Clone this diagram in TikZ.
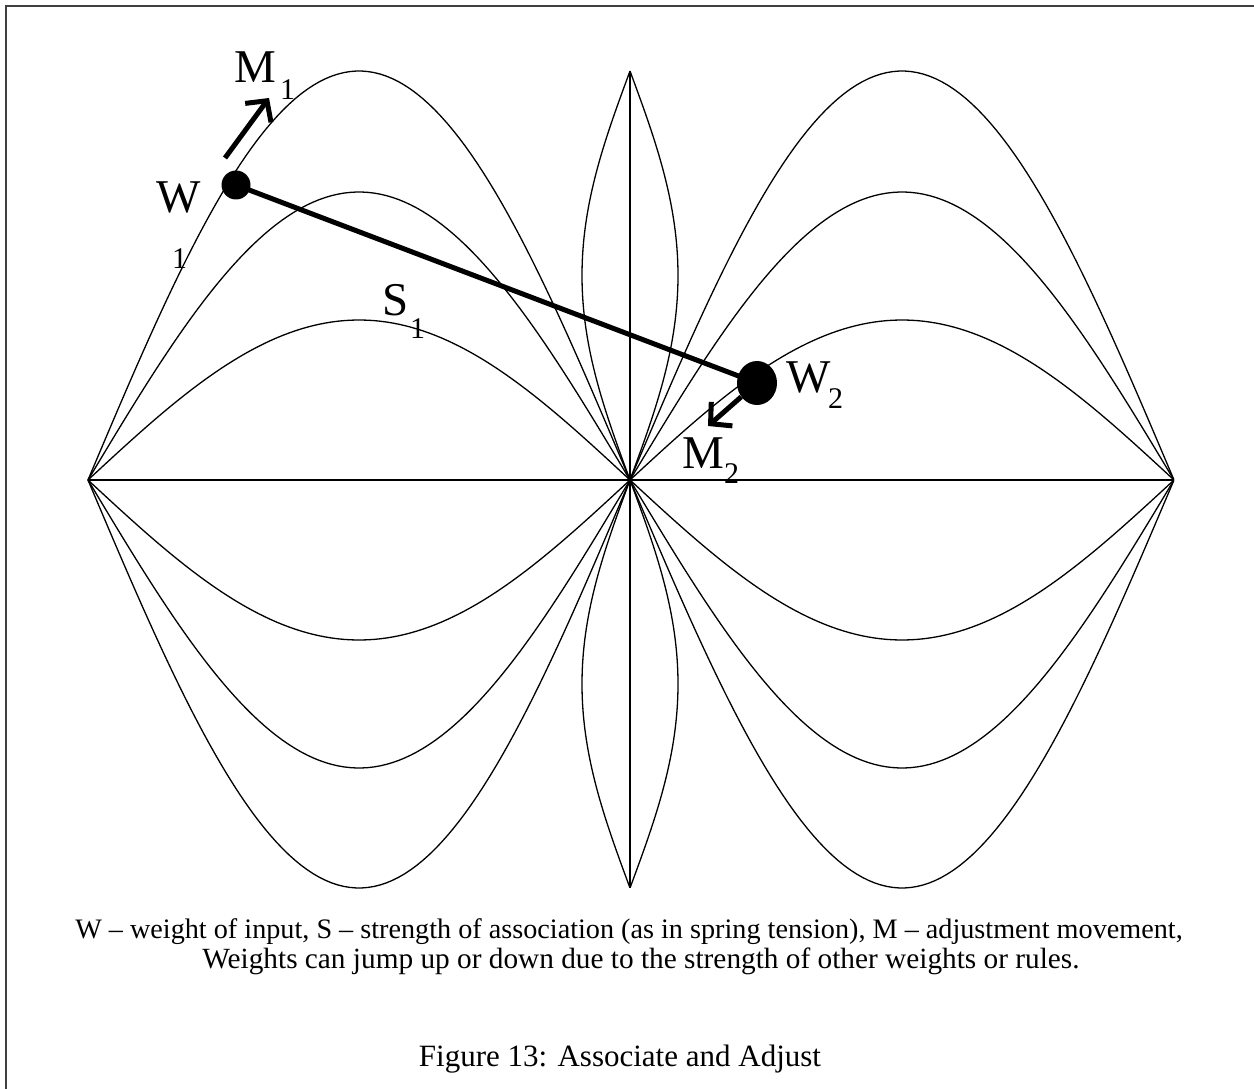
\documentclass[tikz,border=0pt]{standalone}
\usepackage{fontspec}
\setmainfont{Liberation Serif}
\usetikzlibrary{arrows.meta,shapes.geometric}
\begin{document}
\begin{tikzpicture}[x=1pt,y=-1pt,
  curve/.style={line width=1.3pt},
  lbl/.style={inner sep=0pt, anchor=base west, font=\fontsize{47}{47}\selectfont},
  sub/.style={inner sep=0pt, anchor=base west, font=\fontsize{30}{30}\selectfont},
  mover/.style={line width=5pt, -{Straight Barb[length=15pt,width=32pt,line width=5pt]}},
  dot/.style={fill=black, inner sep=0pt},
  captext/.style={inner sep=0pt, anchor=base, font=\fontsize{29.3}{33}\selectfont}]
\useasboundingbox (0,0) rectangle (1254,1089);
\draw[line width=1.5pt, draw=black!75] (6,1089) -- (6,6) -- (1254,6);

\coordinate (L) at (88,480);
\coordinate (C) at (630,480);
\coordinate (R) at (1174,480);
\coordinate (T) at (630,71);
\coordinate (B) at (630,888);
\draw[curve] (L) -- (C) -- (R);
\draw[curve] (T) -- (C) -- (B);
\foreach \h in {409,288,160,-160,-288,-408} {
  \draw[curve] plot[domain=0:1,samples=90] ({88+542*\x},{480-\h*sin(180*\x)});
  \draw[curve] plot[domain=0:1,samples=90] ({630+544*\x},{480-\h*sin(180*\x)});
}
\foreach \s in {-1,1} {
  \draw[curve] plot[domain=0:1,samples=70] ({630+\s*48*sin(180*\x)},{71+409*\x});
  \draw[curve] plot[domain=0:1,samples=70] ({630+\s*48*sin(180*\x)},{480+408*\x});
}

\node[dot, circle, minimum size=29pt] (w1) at (236,185) {};
\node[dot, ellipse, minimum width=40pt, minimum height=44pt] (w2) at (757,383) {};
\draw[line width=5pt] (w1.center) -- (w2.center);

\coordinate (m1a) at (225,158);
\coordinate (m1b) at (269,98);
\draw[mover] (m1a) -- (m1b);
\coordinate (m2b) at (708,426);
\draw[mover] (w2) -- (m2b);

\node[lbl] (M1) at (234,83) {M};
\node[sub] (M1s) at (280,100) {1};
\node[lbl] (W1) at (156,212) {W};
\node[sub] (W1s) at (172,268) {1};
\node[lbl] (S1) at (382,315) {S};
\node[sub] (S1s) at (410,338) {1};
\node[lbl] (W2) at (786,392) {W};
\node[sub] (W2s) at (828,408) {2};
\node[lbl] (M2) at (682,468) {M};
\node[sub] (M2s) at (724,483) {2};

\node[captext, font=\fontsize{28.2}{33}\selectfont] (cap1) at (629,938) {W – weight of input, S – strength of association (as in spring tension), M – adjustment movement,};
\node[captext] (cap2) at (641,968) {Weights can jump up or down due to the strength of other weights or rules.};
\node[captext, font=\fontsize{31}{31}\selectfont] (fig) at (620,1066) {Figure 13: Associate and Adjust};
\end{tikzpicture}
\end{document}
